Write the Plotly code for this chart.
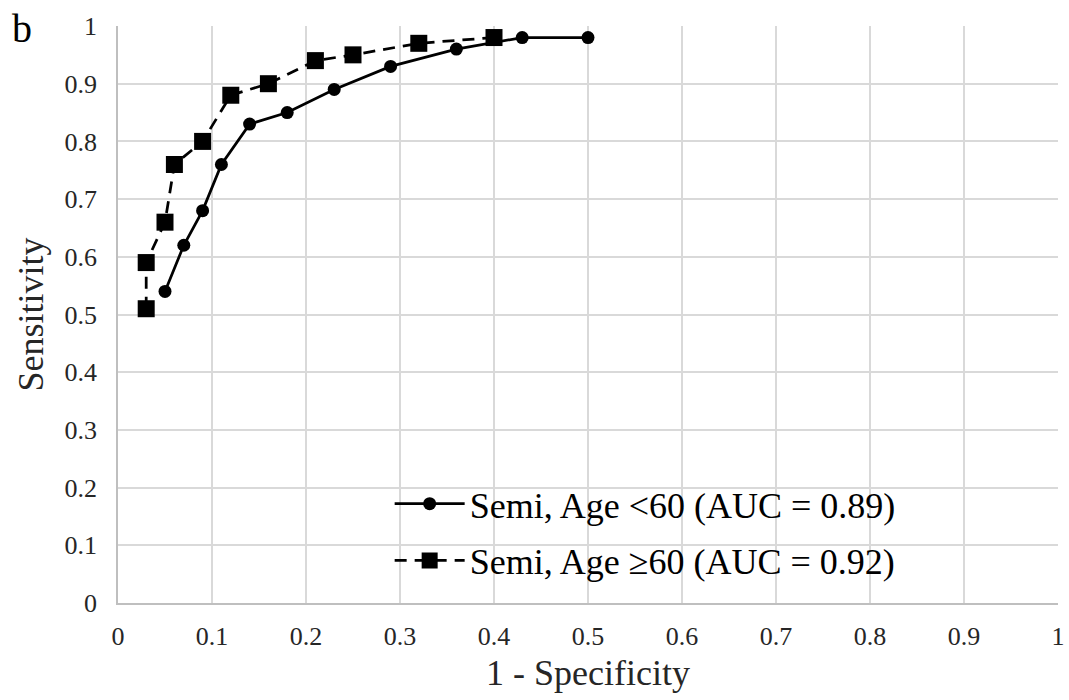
import plotly.graph_objects as go

# ROC points, age < 60
fpr_under60 = [0.05, 0.07, 0.09, 0.11, 0.14, 0.18, 0.23, 0.29, 0.36, 0.43, 0.50]
tpr_under60 = [0.54, 0.62, 0.68, 0.76, 0.83, 0.85, 0.89, 0.93, 0.96, 0.98, 0.98]

# ROC points, age >= 60
fpr_over60 = [0.03, 0.03, 0.05, 0.06, 0.09, 0.12, 0.16, 0.21, 0.25, 0.32, 0.40]
tpr_over60 = [0.51, 0.59, 0.66, 0.76, 0.80, 0.88, 0.90, 0.94, 0.95, 0.97, 0.98]

label_under60 = "Semi, Age &lt;60 (AUC = 0.89)"
label_over60 = "Semi, Age ≥60 (AUC = 0.92)"

tick_vals = [i / 10 for i in range(11)]
tick_text = ["0", "0.1", "0.2", "0.3", "0.4", "0.5", "0.6", "0.7", "0.8", "0.9", "1"]

SERIF = "Liberation Serif"
GRID = "#d9d9d9"
TEXT = "#262626"

fig = go.Figure()

fig.add_trace(go.Scatter(
    x=fpr_under60, y=tpr_under60, mode="lines+markers", name=label_under60,
    legendgroup="a",
    line=dict(color="black", width=2.75),
    marker=dict(symbol="circle", size=13, color="black"),
))
fig.add_trace(go.Scatter(
    x=fpr_over60, y=tpr_over60, mode="lines+markers", name=label_over60,
    legendgroup="b",
    line=dict(color="black", width=2.75, dash="12px,8px"),
    marker=dict(symbol="square", size=17, color="black"),
))

axis_common = dict(
    range=[0, 1], tickvals=tick_vals, ticktext=tick_text,
    showgrid=True, gridcolor=GRID, gridwidth=1.5,
    showline=True, linecolor="#bfbfbf", linewidth=1.5,
    zeroline=False, ticks="", automargin=False,
    tickfont=dict(family=SERIF, size=26, color=TEXT),
)
fig.update_xaxes(
    **axis_common, ticklabelstandoff=9,
    title=dict(text="1 - Specificity", font=dict(family=SERIF, size=36, color=TEXT), standoff=10),
)
fig.update_yaxes(
    **axis_common, ticklabelstandoff=14,
    title=dict(text="Sensitivity", font=dict(family=SERIF, size=36, color=TEXT), standoff=10),
)

fig.add_annotation(
    text="b", xref="paper", yref="paper", x=-0.115, y=0.995,
    xanchor="left", yanchor="middle", showarrow=False,
    font=dict(family=SERIF, size=40, color="black"),
)

fig.update_layout(
    width=1069, height=700,
    margin=dict(l=118, r=11, t=26, b=97),
    paper_bgcolor="white", plot_bgcolor="white",
    showlegend=True,
    legend=dict(
        x=0.289, y=0.224, xanchor="left", yanchor="top",
        bgcolor="rgba(0,0,0,0)", borderwidth=0,
        traceorder="grouped", tracegroupgap=7, itemwidth=70,
        font=dict(family=SERIF, size=36, color="black"),
    ),
)

fig.write_html("out.html")
